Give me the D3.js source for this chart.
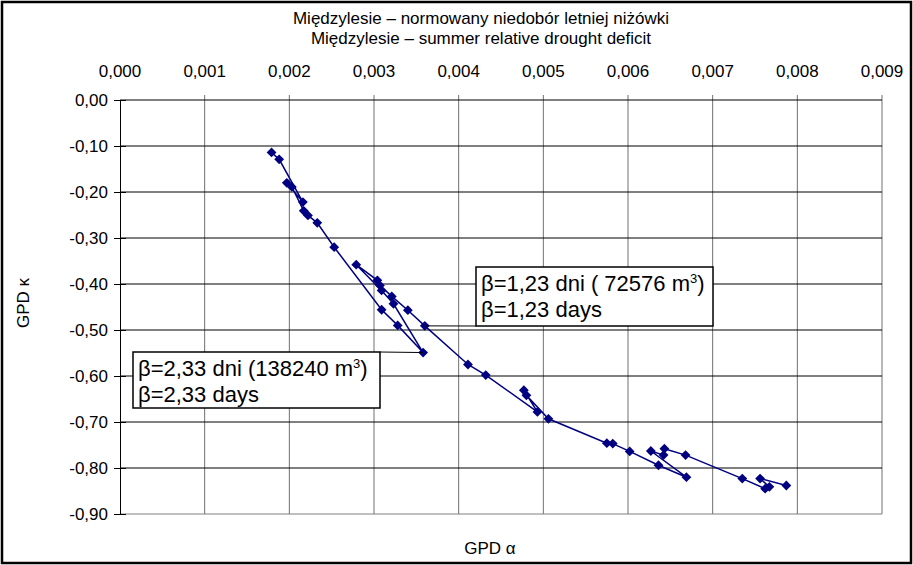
<!DOCTYPE html>
<html>
<head>
<meta charset="utf-8">
<script src="https://cdn.jsdelivr.net/npm/d3@7"></script>
<style>
  body { margin: 0; background: #fff; }
  svg text { font-family: "Liberation Sans", Arial, sans-serif; fill: #000; }
  .tick-label { font-size: 17px; }
  .title { font-size: 17px; }
  .note { font-size: 22px; }
</style>
</head>
<body>
<svg id="chart"></svg>
<script>
// values, in the order the line joins them
const alphaVals = [0.00179, 0.00188, 0.00216, 0.00197, 0.00203, 0.00217, 0.00222, 0.00233,
  0.00253, 0.00309, 0.00328, 0.00358, 0.00323, 0.00309, 0.00279, 0.00304, 0.00307, 0.00321,
  0.00340, 0.00360, 0.00411, 0.00432, 0.00493, 0.00477, 0.00480, 0.00506, 0.00575, 0.00582,
  0.00602, 0.00636, 0.00669, 0.00627, 0.00642, 0.00643, 0.00668, 0.00735, 0.00762, 0.00767,
  0.00756, 0.00787];
const kappaVals = [-0.114, -0.129, -0.222, -0.180, -0.189, -0.241, -0.251, -0.267,
  -0.320, -0.456, -0.490, -0.549, -0.443, -0.414, -0.358, -0.392, -0.403, -0.427,
  -0.457, -0.491, -0.575, -0.598, -0.678, -0.631, -0.642, -0.693, -0.746, -0.747,
  -0.764, -0.794, -0.820, -0.763, -0.772, -0.758, -0.772, -0.823, -0.845, -0.841,
  -0.823, -0.838];

const xTicks = [0, 0.001, 0.002, 0.003, 0.004, 0.005, 0.006, 0.007, 0.008, 0.009];
const yTicks = [0, -0.1, -0.2, -0.3, -0.4, -0.5, -0.6, -0.7, -0.8, -0.9];

const titleLines = ["Międzylesie – normowany niedobór letniej niżówki",
                    "Międzylesie – summer relative drought deficit"];
const xTitle = "GPD α";
const yTitle = "GPD κ";

// annotation boxes: which point they point at and their text
const noteIndex = [19, 11];
const noteLine1 = ["β=1,23 dni  ( 72576 m", "β=2,33 dni (138240 m"];
const noteLine2 = ["β=1,23 days", "β=2,33 days"];

const width = 913, height = 565;
const margin = { top: 100, right: 31, bottom: 51, left: 120 };

const locale = d3.formatLocale({ decimal: ",", thousands: " ", grouping: [3], currency: ["", ""], minus: "-" });
const fx = locale.format(".3f"), fy = locale.format(".2f");

const svg = d3.select("#chart").attr("width", width).attr("height", height);

const x = d3.scaleLinear().domain([0, 0.009]).range([margin.left, width - margin.right]);
const y = d3.scaleLinear().domain([-0.9, 0]).range([height - margin.bottom, margin.top]);

// outer frame
svg.append("rect")
  .attr("x", 2).attr("y", 2).attr("width", width - 4).attr("height", height - 4)
  .attr("fill", "#fff").attr("stroke", "#000").attr("stroke-width", 2.5);

// vertical grid (grey), poking above the top line as ticks
svg.append("g").selectAll("line")
  .data(xTicks.slice(1))
  .join("line")
  .attr("x1", d => x(d)).attr("x2", d => x(d))
  .attr("y1", y(0) - 5).attr("y2", y(-0.9))
  .attr("stroke", "#707070").attr("stroke-width", 1);

// horizontal grid (black), the bottom one grey
svg.append("g").selectAll("line")
  .data(yTicks)
  .join("line")
  .attr("x1", x(0)).attr("x2", x(0.009))
  .attr("y1", d => y(d)).attr("y2", d => y(d))
  .attr("stroke", d => d === -0.9 ? "#808080" : "#000").attr("stroke-width", 1);

// left axis with crossing ticks
const yAxis = d3.axisLeft(y).tickValues(yTicks).tickFormat(fy).tickSize(6).tickPadding(6);
const yAxisG = svg.append("g").attr("transform", `translate(${x(0)},0)`).call(yAxis);
yAxisG.select(".domain").attr("stroke", "#000");
yAxisG.selectAll(".tick line").attr("x2", -6).attr("x1", 6).attr("stroke", "#000");
yAxisG.selectAll(".tick text").attr("class", "tick-label").attr("font-size", null).attr("font-family", null).attr("x", -12);

// top labels
svg.append("g").selectAll("text")
  .data(xTicks)
  .join("text")
  .attr("class", "tick-label")
  .attr("x", d => x(d)).attr("y", 77)
  .attr("text-anchor", "middle")
  .text(d => fx(d));

// titles
svg.append("g").selectAll("text")
  .data(titleLines)
  .join("text")
  .attr("class", "title")
  .attr("x", 481).attr("y", (d, i) => 24 + i * 20)
  .attr("text-anchor", "middle")
  .text(d => d);

svg.append("text").attr("class", "title")
  .attr("x", 490).attr("y", 554).attr("text-anchor", "middle").text(xTitle);

svg.append("text").attr("class", "title")
  .attr("transform", "translate(29,303) rotate(-90)")
  .attr("text-anchor", "middle").text(yTitle);

// series
const pts = alphaVals.map((a, i) => [a, kappaVals[i]]);
const line = d3.line().x(d => x(d[0])).y(d => y(d[1]));

svg.append("path")
  .datum(pts)
  .attr("d", line)
  .attr("fill", "none")
  .attr("stroke", "#000080")
  .attr("stroke-width", 1.5);

const marker = d3.symbol().type(d3.symbolSquare).size(48);
svg.append("g").selectAll("path")
  .data(pts)
  .join("path")
  .attr("d", marker)
  .attr("transform", d => `translate(${x(d[0])},${y(d[1])}) rotate(45)`)
  .attr("fill", "#000080");

// annotation boxes
const boxes = [
  { left: 476, top: 267, w: 237, h: 59, leaderY: "bottom" },
  { left: 133, top: 352, w: 247, h: 56, leaderY: "top" }
];

boxes.forEach((b, i) => {
  const p = pts[noteIndex[i]];
  const px = x(p[0]), py = y(p[1]);
  const g = svg.append("g");
  const ly = b.leaderY === "bottom" ? b.top + b.h : b.top;
  const lx = i === 0 ? b.left : b.left + b.w;
  g.append("line")
    .attr("x1", px).attr("y1", py).attr("x2", lx).attr("y2", ly)
    .attr("stroke", "#000").attr("stroke-width", 1);
  g.append("rect")
    .attr("x", b.left).attr("y", b.top).attr("width", b.w).attr("height", b.h)
    .attr("fill", "#fff").attr("stroke", "#000").attr("stroke-width", 1.5);
  const t1 = g.append("text").attr("class", "note")
    .attr("x", b.left + 5).attr("y", b.top + 24);
  t1.append("tspan").text(noteLine1[i]);
  t1.append("tspan").attr("font-size", "13px").attr("dy", -8).text("3");
  t1.append("tspan").attr("dy", 8).text(")");
  g.append("text").attr("class", "note")
    .attr("x", b.left + 5).attr("y", b.top + 50)
    .text(noteLine2[i]);
});
</script>
</body>
</html>
